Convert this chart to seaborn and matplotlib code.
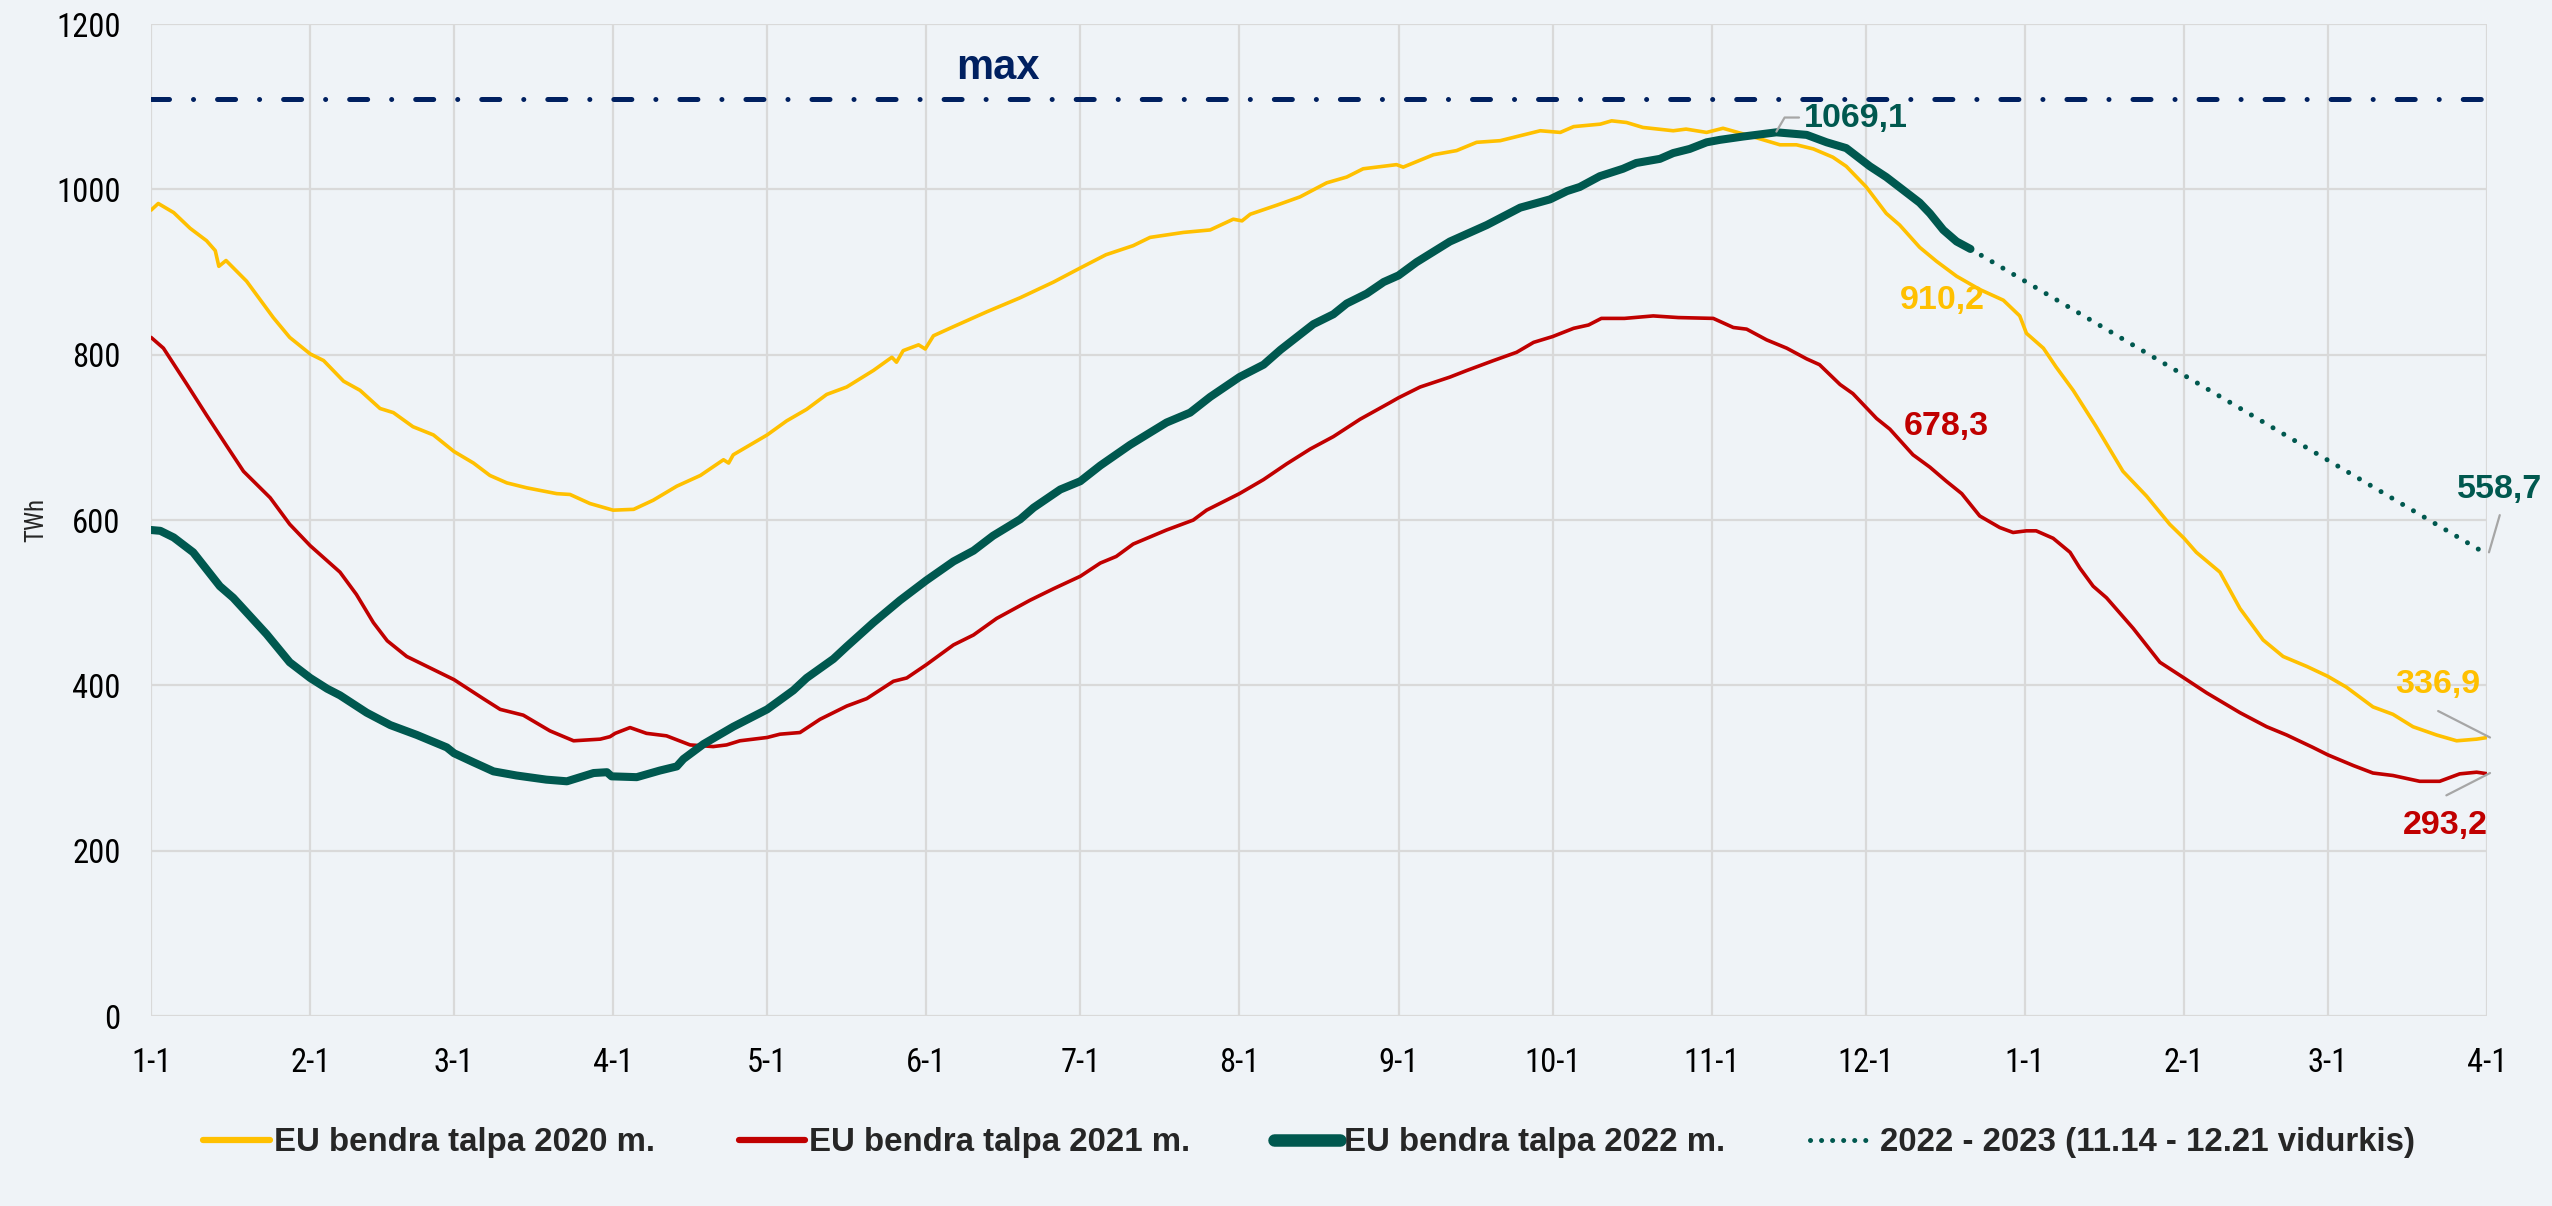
import matplotlib
matplotlib.use("Agg")
import matplotlib.pyplot as plt
from matplotlib.lines import Line2D
import pandas as pd
import seaborn as sns
from matplotlib import font_manager

# x axis: day index counted from 1-1 (Jan of the first year) up to 4-1 of the next year
tick_days = [0, 31, 59, 90, 120, 151, 181, 212, 243, 273, 304, 334, 365, 396, 424, 455]
tick_labels = ["1-1", "2-1", "3-1", "4-1", "5-1", "6-1", "7-1", "8-1", "9-1", "10-1",
               "11-1", "12-1", "1-1", "2-1", "3-1", "4-1"]

max_level = 1110

# EU storage 2020 (TWh)
days_2020 = [0, 1.4, 4.4, 7.6, 10.8, 12.5, 13.2, 14.6, 18.6, 23.8, 27, 31, 33.6, 37.5, 40.7, 44.6,
             47.2, 51, 55, 59, 62.8, 66, 69.3, 73.2, 79, 81.6, 85.5, 90, 94, 97.8, 102.4, 107,
             111.5, 112.5, 113.4, 120, 123.8, 127.7, 131.6, 135.5, 140.7, 144.3, 145.2, 146.5,
             149.5, 150.8, 152.4, 156.3, 162.8, 169.3, 175.8, 181, 186, 191.3, 194.6, 201.1,
             206.3, 210.8, 212.5, 214.1, 219.3, 223.8, 229, 232.9, 236.1, 240, 242.6, 243.9,
             249.8, 254.3, 258.2, 262.8, 268, 270.6, 274.5, 277.1, 282.3, 284.5, 287.4, 290.6,
             296.5, 299, 303, 306.2, 310.8, 317.3, 320.5, 323.8, 327.6, 330.2, 334.1, 338,
             340.6, 344.5, 347.8, 351.7, 356.2, 360.8, 364, 365.3, 368.6, 371.1, 374.4, 378.9,
             384.1, 388.7, 393.2, 396, 398.4, 403, 406.9, 411.4, 415.3, 419.9, 424, 427.6,
             432.8, 436.7, 440.6, 445.2, 449.1, 453, 455]
vals_2020 = [975, 983, 972, 953, 938, 926, 907, 914, 889, 845, 821, 801, 793, 768, 757, 735,
             730, 713, 703, 683, 669, 654, 645, 639, 632, 631, 620, 612, 613, 624, 641, 654,
             673, 669, 679, 703, 720, 734, 752, 761, 781, 797, 791, 805,
             812, 807, 823, 834, 852, 869, 888, 905, 921, 932, 942, 948,
             951, 964, 962, 970, 981, 991, 1008, 1015, 1025, 1028, 1030, 1027,
             1042, 1047, 1057, 1059, 1067, 1071, 1069, 1076, 1079, 1083, 1081, 1075,
             1071, 1073, 1069, 1074, 1066, 1054, 1054, 1049, 1039, 1028, 1003, 971,
             957, 930, 913, 895, 879, 866, 847, 826, 808, 785, 757, 713,
             659, 629, 595, 578, 561, 537, 493, 455, 435, 423, 411, 398,
             374, 365, 350, 340, 333, 335, 336.9]

# EU storage 2021 (TWh)
days_2021 = [0, 2.4, 7, 10.8, 14.7, 18, 23.2, 27, 31, 36.8, 40, 43.3, 46, 49.8, 54.4, 59, 64.7,
             68, 72.5, 77.7, 82.3, 87.5, 89.4, 90.4, 93.3, 96.5, 100.4, 105, 109.5, 112.1, 114.7,
             120, 122.5, 126.4, 130.3, 135.5, 139.4, 144.6, 147.2, 151, 156.3, 160.2, 164.7,
             171.2, 175.8, 181, 184.9, 188, 191.3, 197.8, 203, 205.6, 212, 216.7, 221.2, 225.8,
             230.3, 235.5, 241.3, 243, 247.2, 253, 256.3, 261.5, 266, 269.3, 273, 277.1, 280,
             282.5, 287, 292.6, 297.5, 304.3, 308.2, 310.8, 314.7, 318.6, 322.5, 325, 329,
             331.5, 336.1, 338.7, 343.2, 346.5, 349.7, 352.7, 356.2, 360.1, 362.7, 365.3, 367.2,
             370.5, 373.8, 375.7, 378.3, 380.9, 386.1, 391.3, 396, 400.4, 406.9, 412.1, 416,
             421.1, 424, 429, 432.8, 436.7, 441.9, 445.8, 449.7, 453, 455]
vals_2021 = [821, 808, 764, 727, 690, 659, 627, 595, 569, 537, 510, 476, 454, 435, 421, 407, 384,
             371, 364, 345, 333, 335, 338, 342, 349, 342, 339, 328, 326, 328, 333,
             337, 341, 343, 359, 375, 384, 405, 409, 425, 449, 461, 481,
             503, 517, 532, 548, 556, 571, 588, 600, 612, 632, 649, 668, 686,
             701, 722, 742, 748, 761, 773, 781, 793, 803, 815, 822, 832, 836,
             844, 844, 847, 845, 844, 833, 831, 818, 808, 795, 788, 764,
             753, 723, 710, 679, 664, 647, 632, 605, 591, 585, 587, 587,
             578, 561, 542, 520, 506, 469, 428, 409, 391, 367, 350, 340,
             325, 316, 303, 294, 291, 284, 284, 293, 295, 293.2]

# EU storage 2022 (TWh), up to 12.21
days_2022 = [0, 1.8, 4.4, 8.2, 13.4, 16, 22.5, 27, 31, 34.3, 36.8, 42, 46.6, 51.8, 57.6, 59, 62.8,
             66.7, 71.2, 77, 81, 86.2, 88.8, 89.7, 94.6, 99.1, 102.4, 103.7, 107.6, 113.4, 120,
             125.1, 127.7, 132.9, 135.5, 140.7, 145.9, 151, 156.3, 160.2, 164, 169.3, 171.9,
             177.1, 181, 184.9, 190.7, 197.8, 202.4, 206.3, 212, 216.7, 220, 226.4, 230.3, 232.9,
             236.8, 240.1, 243, 246.5, 253, 260.2, 266.7, 272.5, 275.8, 278.3, 282.2, 286.7,
             289.3, 293.9, 296.5, 299.7, 303, 305.6, 310.1, 316.6, 322.5, 326.4, 330.2, 334.8,
             338, 344.5, 346.5, 349.1, 351.7, 354.4]
vals_2022 = [588, 587, 579, 561, 520, 506, 462, 428, 409, 396, 388, 367, 352, 340, 325, 318, 307,
             296, 291, 286, 284, 294, 295, 290, 289, 297, 302, 311, 329, 350, 371,
             394, 409, 432, 447, 476, 503, 527, 550, 563, 581, 601, 615,
             637, 647, 666, 691, 718, 730, 749, 773, 788, 806, 837, 849, 862,
             874, 888, 896, 912, 937, 957, 978, 988, 998, 1003, 1016, 1025,
             1032, 1037, 1044, 1049, 1057, 1060, 1064, 1069.1, 1066, 1057, 1050, 1028,
             1015, 984, 971, 951, 937, 928]

# 2022 - 2023 projection (11.14 - 12.21 average rate)
days_proj = [354.4, 455]
vals_proj = [928, 558.7]

labels = ["EU bendra talpa 2020 m.", "EU bendra talpa 2021 m.",
          "EU bendra talpa 2022 m.", "2022 - 2023 (11.14 - 12.21 vidurkis)"]

c2020, c2021, c2022, cmax = "#FFC000", "#C00000", "#00584F", "#002060"
bg = "#EFF3F7"
leader = "#A6A6A6"

sns.set_style("whitegrid", {"axes.facecolor": bg, "figure.facecolor": bg,
                            "grid.color": "#D9D9D9", "axes.edgecolor": "#D9D9D9"})
avail = {f.name for f in font_manager.fontManager.ttflist}
narrow = next((f for f in ["Liberation Sans Narrow", "Noto Sans Condensed", "Roboto Condensed",
                           "Open Sans Condensed", "DejaVu Sans Condensed"] if f in avail),
              "Liberation Sans")
plt.rcParams["font.family"] = [narrow, "DejaVu Sans"]

fig, ax = plt.subplots(figsize=(25.52, 12.06), dpi=100)
fig.subplots_adjust(left=0.0592, right=0.9745, bottom=0.1575, top=0.980)

df20 = pd.DataFrame({"day": days_2020, "TWh": vals_2020})
df21 = pd.DataFrame({"day": days_2021, "TWh": vals_2021})
df22 = pd.DataFrame({"day": days_2022, "TWh": vals_2022})
dfp = pd.DataFrame({"day": days_proj, "TWh": vals_proj})

ax.axhline(max_level, color=cmax, lw=3.6, dashes=(3.6, 4.8, 0.01, 4.8),
           dash_capstyle="round", zorder=2)
sns.lineplot(data=df20, x="day", y="TWh", ax=ax, color=c2020, lw=2.6, zorder=3)
sns.lineplot(data=df21, x="day", y="TWh", ax=ax, color=c2021, lw=2.6, zorder=3)
sns.lineplot(data=dfp, x="day", y="TWh", ax=ax, color=c2022, lw=3.6,
             dashes=(0.01, 2.5), zorder=3)
ax.lines[-1].set_dash_capstyle("round")
sns.lineplot(data=df22, x="day", y="TWh", ax=ax, color=c2022, lw=5.8, zorder=4)
ax.lines[-1].set_solid_capstyle("round")

ax.set_xlim(0, 455)
ax.set_ylim(0, 1200)
ax.set_yticks(range(0, 1201, 200))
ax.set_xticks(tick_days)
ax.set_xticklabels(tick_labels)
ax.grid(True, color="#D9D9D9", lw=1.6)
ax.tick_params(axis="both", length=0, labelsize=23.5, colors="black")
ax.tick_params(axis="x", pad=22)
ax.tick_params(axis="y", pad=22)
ax.set_xlabel("")
ax.set_ylabel("TWh", fontsize=18)
ax.yaxis.set_label_coords(-0.044, 0.5)
for s in ax.spines.values():
    s.set_visible(False)

bold = dict(family=["Liberation Sans", "DejaVu Sans"], fontweight="bold", fontsize=24.5)


def leader_line(points):
    xs, ys = zip(*points)
    ax.plot(xs, ys, color=leader, lw=1.6, clip_on=False, zorder=5)


ax.text(165, 1147, "max", color=cmax, ha="center", va="center", **{**bold, "fontsize": 30})

ax.text(322, 1086, "1069,1", color=c2022, ha="left", va="center", **bold)
leader_line([(316.6, 1070), (318.2, 1087), (321, 1087)])

ax.text(349, 866, "910,2", color=c2020, ha="center", va="center", **bold)
ax.text(349.7, 713, "678,3", color=c2021, ha="center", va="center", **bold)

ax.text(457.5, 637, "558,7", color=c2022, ha="center", va="center", clip_on=False, **bold)
leader_line([(457.5, 606), (455.4, 561)])

ax.text(445.5, 401, "336,9", color=c2020, ha="center", va="center", **bold)
leader_line([(445.5, 369), (455.6, 337)])

ax.text(447, 231, "293,2", color=c2021, ha="center", va="center", **bold)
leader_line([(447.1, 267), (455.6, 294)])

handles = [
    Line2D([], [], color=c2020, lw=4.5),
    Line2D([], [], color=c2021, lw=4.5),
    Line2D([], [], color=c2022, lw=9),
    Line2D([], [], color=c2022, lw=3.6, dashes=(0.01, 2.2), dash_capstyle="round"),
]
fig.legend(handles, labels, loc="center", bbox_to_anchor=(0.513, 0.0525), ncol=4,
           frameon=False, handlelength=2.0, handletextpad=0.12, columnspacing=2.55,
           prop=dict(family=["Liberation Sans", "DejaVu Sans"], weight="bold", size=23.8))

fig.savefig("out.png", dpi=100, facecolor=bg)
